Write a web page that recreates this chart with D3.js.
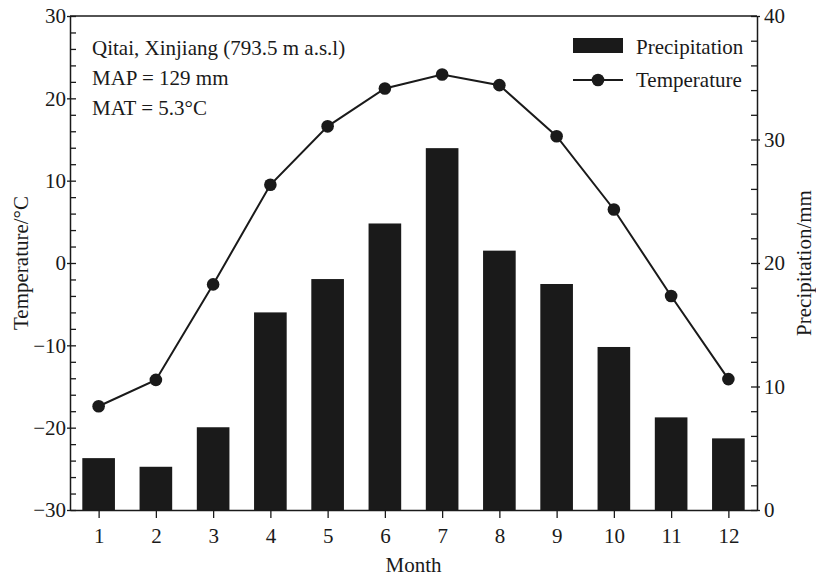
<!DOCTYPE html>
<html>
<head>
<meta charset="utf-8">
<script src="https://cdn.jsdelivr.net/npm/d3@7"></script>
<style>
  html, body { margin: 0; padding: 0; background: #fff; }
  svg text { font-family: "Liberation Serif", "Times New Roman", serif; fill: #1a1a1a; }
</style>
</head>
<body>
<svg id="chart" width="816" height="577"></svg>
<script>
// Monthly climate of Qitai, Xinjiang
const months = [1, 2, 3, 4, 5, 6, 7, 8, 9, 10, 11, 12];
const precipitation = [4.2, 3.5, 6.7, 16.0, 18.7, 23.2, 29.3, 21.0, 18.3, 13.2, 7.5, 5.8];
const temperature = [-17.4, -14.2, -2.6, 9.5, 16.6, 21.2, 22.9, 21.6, 15.4, 6.5, -4.0, -14.1];
const tempTicks = [-30, -20, -10, 0, 10, 20, 30];
const precTicks = [0, 10, 20, 30, 40];
const infoLines = ["Qitai, Xinjiang (793.5 m a.s.l)", "MAP = 129 mm", "MAT = 5.3°C"];

(function draw() {
  const ink = "#1a1a1a";
  const fs = "21px";
  const svg = d3.select("#chart");
  const pL = 70, pR = 757, pT = 16, pB = 510;

  const x = d3.scaleLinear().domain([0.5, 12.5]).range([pL, pR]);
  const yT = d3.scaleLinear().domain([-30, 30]).range([pB, pT]);
  const yP = d3.scaleLinear().domain([0, 40]).range([pB, pT]);
  const barW = (x(2) - x(1)) * 0.57;

  // precipitation bars
  svg.append("g").selectAll("rect").data(months).join("rect")
    .attr("x", (d) => x(d) - barW / 2)
    .attr("y", (d, i) => yP(precipitation[i]))
    .attr("width", barW)
    .attr("height", (d, i) => yP(0) - yP(precipitation[i]))
    .attr("fill", ink);

  // temperature line with markers
  const line = d3.line().x((d, i) => x(months[i])).y((d) => yT(d));
  svg.append("path").datum(temperature)
    .attr("d", line).attr("fill", "none")
    .attr("stroke", ink).attr("stroke-width", 2);
  svg.append("g").selectAll("circle").data(temperature).join("circle")
    .attr("cx", (d, i) => x(months[i])).attr("cy", (d) => yT(d))
    .attr("r", 6.3).attr("fill", ink);

  // top frame line
  svg.append("line").attr("x1", pL).attr("x2", pR).attr("y1", pT).attr("y2", pT)
    .attr("stroke", ink).attr("stroke-width", 1.5);

  const fmt = d3.format("d");
  function styleAxis(g) {
    g.selectAll(".domain").attr("stroke", ink).attr("stroke-width", 1.5);
    g.selectAll(".tick line").attr("stroke", ink).attr("stroke-width", 1.3);
    g.selectAll(".tick text").style("font-size", fs)
      .style("font-family", '"Liberation Serif", "Times New Roman", serif').attr("fill", ink);
  }

  // left temperature axis, inward ticks
  const gL = svg.append("g").attr("transform", `translate(${pL},0)`)
    .call(d3.axisLeft(yT).tickValues(d3.range(-30, 31, 2)).tickSize(-6).tickSizeOuter(0)
      .tickPadding(4).tickFormat((d) => tempTicks.includes(d) ? fmt(d) : ""));
  styleAxis(gL);
  gL.selectAll(".tick").filter((d) => tempTicks.includes(d)).append("line")
    .attr("x1", -3).attr("x2", 0).attr("stroke", ink).attr("stroke-width", 1.3);

  // right precipitation axis, inward ticks
  const gR = svg.append("g").attr("transform", `translate(${pR},0)`)
    .call(d3.axisRight(yP).tickValues(d3.range(0, 41, 2)).tickSize(-6).tickSizeOuter(0)
      .tickPadding(7).tickFormat((d) => precTicks.includes(d) ? fmt(d) : ""));
  styleAxis(gR);
  gR.selectAll(".tick").filter((d) => precTicks.includes(d)).append("line")
    .attr("x1", 0).attr("x2", 3).attr("stroke", ink).attr("stroke-width", 1.3);

  // bottom month axis, outward ticks
  const gB = svg.append("g").attr("transform", `translate(0,${pB})`)
    .call(d3.axisBottom(x).tickValues(months).tickSize(8).tickSizeOuter(0)
      .tickPadding(10).tickFormat(fmt));
  styleAxis(gB);

  // axis titles
  svg.append("text").attr("x", (pL + pR) / 2).attr("y", 572)
    .attr("text-anchor", "middle").style("font-size", fs).text("Month");
  svg.append("text").attr("transform", `translate(28,${(pT + pB) / 2}) rotate(-90)`)
    .attr("text-anchor", "middle").style("font-size", fs).text("Temperature/°C");
  svg.append("text").attr("transform", `translate(811,${(pT + pB) / 2}) rotate(-90)`)
    .attr("text-anchor", "middle").style("font-size", fs).text("Precipitation/mm");

  // station info
  svg.append("g").selectAll("text").data(infoLines).join("text")
    .attr("x", 92).attr("y", (d, i) => 55 + i * 30)
    .style("font-size", fs).text((d) => d);

  // legend
  const lg = svg.append("g");
  lg.append("rect").attr("x", 573).attr("y", 38).attr("width", 50).attr("height", 15).attr("fill", ink);
  lg.append("text").attr("x", 636).attr("y", 54).style("font-size", fs).text("Precipitation");
  lg.append("line").attr("x1", 573).attr("x2", 623).attr("y1", 80).attr("y2", 80)
    .attr("stroke", ink).attr("stroke-width", 2);
  lg.append("circle").attr("cx", 598).attr("cy", 80).attr("r", 6.3).attr("fill", ink);
  lg.append("text").attr("x", 636).attr("y", 87).style("font-size", fs).text("Temperature");
})();
</script>
</body>
</html>
